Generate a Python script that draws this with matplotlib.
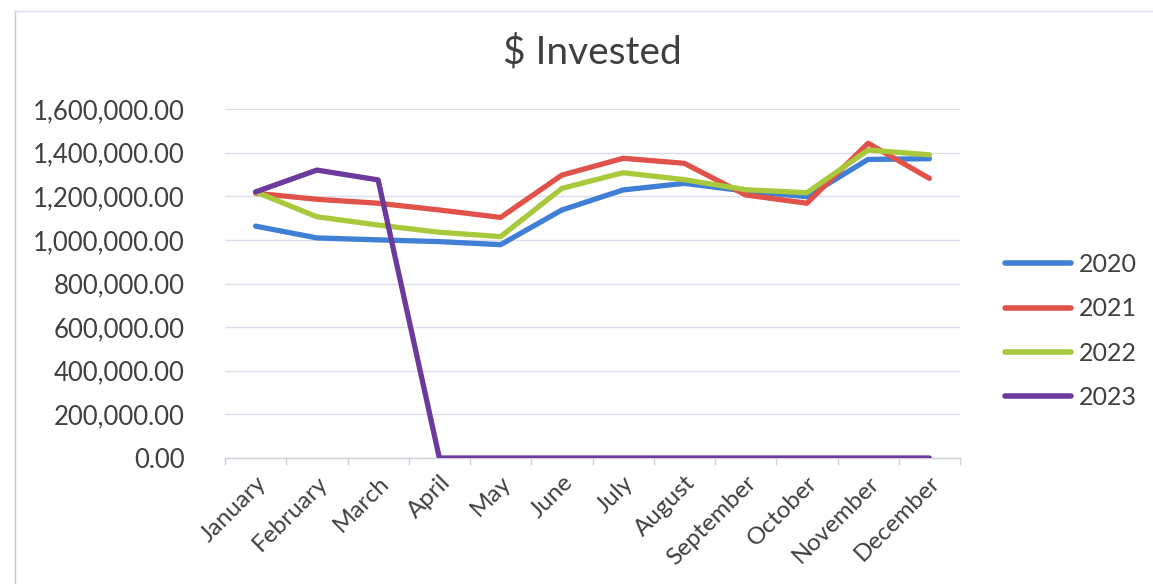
import matplotlib
matplotlib.use("Agg")
import matplotlib.pyplot as plt
from matplotlib.ticker import FuncFormatter, FixedLocator, MultipleLocator
from matplotlib.lines import Line2D

months = ["January", "February", "March", "April", "May", "June", "July",
          "August", "September", "October", "November", "December"]
years = ["2020", "2021", "2022", "2023"]

invested_2020 = [1063000, 1009000, 1000000, 992000, 978000, 1137000,
                 1229000, 1259000, 1224000, 1198000, 1369000, 1372000]
invested_2021 = [1214000, 1186000, 1168000, 1137000, 1103000, 1297000,
                 1374000, 1351000, 1206000, 1168000, 1443000, 1282000]
invested_2022 = [1220000, 1106000, 1068000, 1035000, 1015000, 1236000,
                 1308000, 1276000, 1230000, 1216000, 1412000, 1390000]
invested_2023 = [1220000, 1320000, 1275000, 0, 0, 0, 0, 0, 0, 0, 0, 0]

series = [invested_2020, invested_2021, invested_2022, invested_2023]
colors = ["#3f7fd6", "#e0524a", "#a8c93c", "#6b3a9c"]

plt.rcParams["font.family"] = ["Lato", "DejaVu Sans"]
text_color = "#404040"

fig = plt.figure(figsize=(11.53, 5.84), dpi=100)
ax = fig.add_axes([225 / 1153, 1 - 458 / 584, (960 - 225) / 1153, (458 - 109) / 584])

x = list(range(len(months)))
for vals, col, yr in zip(series, colors, years):
    ax.plot(x, vals, color=col, lw=3.8, solid_joinstyle="round",
            solid_capstyle="round", label=yr, zorder=3)

ax.set_xlim(-0.5, len(months) - 0.5)
ax.set_ylim(0, 1600000)
ax.yaxis.set_major_locator(MultipleLocator(200000))
ax.yaxis.set_major_formatter(FuncFormatter(lambda v, p: f"{v:,.2f}"))
ax.grid(axis="y", color="#dcdcec", lw=1.0, zorder=0)

ax.set_xticks(x)
ax.set_xticklabels(months, rotation=45, ha="right", rotation_mode="anchor")
ax.xaxis.set_minor_locator(FixedLocator([i - 0.5 for i in range(len(months) + 1)]))
ax.tick_params(axis="x", which="major", length=0, pad=10,
               labelsize=17.5, labelcolor=text_color)
ax.tick_params(axis="x", which="minor", length=5, color="#d0d0dc", width=1)
ax.tick_params(axis="y", length=0, pad=29, labelsize=18.5, labelcolor=text_color)

for side in ["top", "right", "left"]:
    ax.spines[side].set_visible(False)
ax.spines["bottom"].set_color("#d0d0dc")
ax.spines["bottom"].set_linewidth(1)

fig.text(592 / 1153, 1 - 52 / 584, "$ Invested", fontsize=28, color=text_color,
         ha="center", va="center")

handles = [Line2D([0], [0], color=c, lw=4, solid_capstyle="round") for c in colors]
fig.legend(handles, years, loc="center left", bbox_to_anchor=(1005 / 1153, 1 - 331 / 584),
           frameon=False, fontsize=18, labelcolor=text_color, handlelength=2.65,
           handletextpad=0.3, labelspacing=0.85, borderpad=0, borderaxespad=0)

# faint chart-area border
fig.add_artist(Line2D([15 / 1153, 15 / 1153], [0, 1 - 11 / 584],
                      transform=fig.transFigure, color="#c8c8c8", lw=1))
fig.add_artist(Line2D([15 / 1153, 1], [1 - 11 / 584, 1 - 11 / 584],
                      transform=fig.transFigure, color="#dadaf0", lw=1))

fig.savefig("out.png", dpi=100)
